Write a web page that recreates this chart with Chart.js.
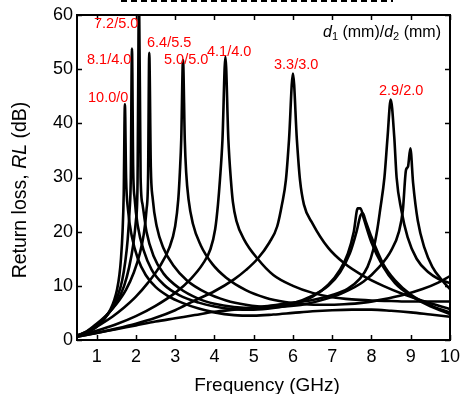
<!DOCTYPE html>
<html><head><meta charset="utf-8">
<script src="https://cdn.jsdelivr.net/npm/chart.js@4"></script>
<style>html,body{margin:0;padding:0;background:#fff;}</style>
</head><body>
<canvas id="c" width="473" height="394"></canvas>
<script>
// ---- data ----
const xTickValues = [1,2,3,4,5,6,7,8,9,10];
const yTickValues = [0,10,20,30,40,50,60];
const seriesLabels = ["10.0/0","8.1/4.0","7.2/5.0","6.4/5.5","5.0/5.0","4.1/4.0","3.3/3.0","2.9/2.0"];

const freqA = [0.5,0.75,1.0,1.2,1.35,1.45,1.52,1.58,1.62,1.66,1.69,1.72,1.75,1.80,1.9,2.05,2.25,2.5,2.8,3.2,3.6,4.0,4.5,5.0,5.5,6.0,6.5,7.0,7.5,8.0,8.5,9.0,9.5,10];
const rlA   = [0.6,1.3,2.4,3.9,5.6,7.4,9.3,12,15,20,27,43.5,30,24,19,15,12,9.8,8.2,6.8,5.8,5.1,4.6,4.5,4.7,5.0,5.3,5.5,5.6,5.6,5.4,5.1,4.7,4.3];

const freqB = [0.5,0.75,1.0,1.2,1.4,1.55,1.65,1.73,1.79,1.84,1.87,1.90,1.93,1.97,2.05,2.2,2.4,2.7,3.1,3.6,4.0,4.5,5.0,5.5,6.0,6.5,6.9,7.2,7.4,7.55,7.65,7.72,7.8,8.0,8.3,8.6,9.0,9.5,10];
const rlB   = [0.7,1.4,2.6,4.0,6.0,8.4,11,14.5,18.5,24,30,53.8,32,26,21,16.5,13,10.3,8.3,6.9,6.2,5.7,5.6,5.9,6.6,8.0,10.2,13,16,20,24.3,24.3,22.5,18,13.5,10.5,8.2,6.2,4.8];

const freqC = [0.5,0.75,1.0,1.25,1.5,1.7,1.83,1.93,2.0,2.04,2.08,2.12,2.17,2.27,2.45,2.7,3.1,3.6,4.0,4.5,5.0,5.5,6.0,6.5,6.9,7.2,7.45,7.62,7.72,7.78,7.85,8.0,8.3,8.6,9.0,9.5,10];
const rlC   = [0.8,1.5,2.8,4.5,6.8,10,13.5,17.5,22,28,64,30,25,20,15.5,12.3,9.6,7.6,6.7,6.1,5.9,6.1,6.8,8.2,10,12.5,16,20,23.0,23.4,22,19,14,11,8.4,6.4,5.1];

const freqD = [0.5,0.75,1.0,1.25,1.5,1.75,1.95,2.1,2.2,2.27,2.31,2.34,2.38,2.43,2.53,2.7,2.95,3.3,3.8,4.3,4.8,5.3,5.8,6.3,6.8,7.3,7.8,8.2,8.5,8.7,8.8,8.88,8.93,8.99,9.06,9.18,9.35,9.55,9.8,10];
const rlD   = [0.8,1.6,3.0,4.6,6.6,9.3,12.5,16,19.5,24,30,53,32,26,21,17,13.8,11,8.7,7.3,6.5,6.1,6.2,6.6,7.5,8.8,10.8,13.5,16.5,20,24,31.4,32,35.4,29,22,17,13.5,11,9.4];

const freqE = [0.5,0.8,1.1,1.4,1.7,2.0,2.3,2.6,2.85,3.0,3.08,3.12,3.155,3.2,3.245,3.28,3.34,3.45,3.65,3.95,4.3,4.8,5.3,5.8,6.3,6.8,7.3,7.8,8.3,8.8,9.3,9.7,10];
const rlE   = [0.8,1.7,2.9,4.3,6.0,8.0,10.5,13.5,17,21,26,31,37,51.7,37,31,26,21.5,17.5,14,11.5,9.2,7.8,7.0,6.6,6.5,6.6,6.9,7.5,8.3,9.4,10.6,11.8];

const freqF = [0.5,1.0,1.5,2.0,2.5,3.0,3.4,3.7,3.9,4.02,4.09,4.14,4.205,4.28,4.355,4.42,4.47,4.56,4.76,5.1,5.5,6.0,6.5,7.0,7.5,8.0,8.5,9.0,9.5,10];
const rlF   = [0.7,1.7,2.9,4.4,6.3,8.7,11.3,14,16.8,20.5,25,29.5,37,52.3,37,29.5,25.5,22,18.5,15,12,10,8.7,7.9,7.5,7.3,7.2,7.1,7.1,7.1];

const freqG = [0.5,1.0,1.5,2.0,2.5,3.0,3.5,4.0,4.5,4.8,5.1,5.4,5.6,5.72,5.82,5.9,6.0,6.1,6.18,6.28,6.5,6.9,7.3,7.8,8.3,8.8,9.4,10];
const rlG   = [0.6,1.3,2.1,3.0,4.1,5.5,7.3,9.0,11.2,12.9,15,18,21,25,29.5,37,49.2,37,29.5,25,21.5,17,14.2,11.8,10,8.5,7,5.7];

const freqH = [0.5,1.0,1.5,2.0,2.5,3.0,3.5,4.0,4.5,5.0,5.5,6.0,6.5,7.0,7.4,7.7,7.9,8.05,8.15,8.22,8.33,8.41,8.49,8.58,8.64,8.76,8.92,9.15,9.45,9.7,10];
const rlH   = [0.6,1.3,2.0,2.7,3.4,4.0,4.6,5.2,5.6,6.0,6.4,6.9,7.4,8.3,9.5,11.3,13.5,16.8,20.5,24,30,37.5,44.4,37.5,30,24,19,15,12.5,11.3,10.5];

const seriesFreq = [freqA,freqB,freqC,freqD,freqE,freqF,freqG,freqH];
const seriesRL   = [rlA,rlB,rlC,rlD,rlE,rlF,rlG,rlH];

// ---- label placement (style, not data) ----
const labelPos = [[88,98],[87,60],[94,24],[147,43],[164,60],[207,52],[274,65],[379,91]];

const FONT = '"Liberation Sans", Arial, sans-serif';

const datasets = seriesFreq.map((fs,i)=>({
  label: seriesLabels[i],
  data: fs.map((f,j)=>({x:f,y:seriesRL[i][j]})),
  borderColor:'#000', backgroundColor:'#000', borderWidth:2.6,
  pointRadius:0, fill:false, cubicInterpolationMode:'monotone', showLine:true
}));

const decor = {
  id:'decor',
  afterDraw(chart){
    const ctx = chart.ctx, a = chart.chartArea;
    const xs = chart.scales.x, ys = chart.scales.y;
    ctx.save();
    ctx.strokeStyle='#000'; ctx.lineWidth=2;
    ctx.strokeRect(a.left, a.top, a.right-a.left, a.bottom-a.top);
    ctx.lineWidth=1.5;
    ctx.beginPath();
    xTickValues.forEach(v=>{
      const px = Math.round(xs.getPixelForValue(v))+0.5;
      ctx.moveTo(px,a.bottom); ctx.lineTo(px,a.bottom-5);
      ctx.moveTo(px,a.top); ctx.lineTo(px,a.top+5);
    });
    yTickValues.forEach(v=>{
      const py = Math.round(ys.getPixelForValue(v))+0.5;
      ctx.moveTo(a.left,py); ctx.lineTo(a.left+5,py);
      ctx.moveTo(a.right,py); ctx.lineTo(a.right-5,py);
    });
    ctx.stroke();
    ctx.setLineDash([6,4]); ctx.lineWidth=2;
    ctx.beginPath(); ctx.moveTo(121,1); ctx.lineTo(393,1); ctx.stroke();
    ctx.setLineDash([]);
    ctx.fillStyle='#ff0000'; ctx.font='14.5px '+FONT; ctx.textBaseline='middle'; ctx.textAlign='left';
    seriesLabels.forEach((t,i)=>ctx.fillText(t,labelPos[i][0],labelPos[i][1]));
    ctx.fillStyle='#000';
    let x=323, y=33;
    const seg=(txt,font,dy)=>{ctx.font=font; ctx.fillText(txt,x,y+(dy||0)); x+=ctx.measureText(txt).width;};
    seg('d','italic 16px '+FONT); seg('1','11px '+FONT,4); seg(' (mm)/','16px '+FONT);
    seg('d','italic 16px '+FONT); seg('2','11px '+FONT,4); seg(' (mm)','16px '+FONT);
    ctx.font='19px '+FONT; ctx.textAlign='center';
    ctx.fillText('Frequency (GHz)', 267, 386);
    ctx.translate(21,190); ctx.rotate(-Math.PI/2);
    const parts=[['Return loss, ','19.5px '+FONT],['RL','italic 19.5px '+FONT],[' (dB)','19.5px '+FONT]];
    let tw=0; parts.forEach(p=>{ctx.font=p[1]; tw+=ctx.measureText(p[0]).width;});
    let cx=-tw/2; ctx.textAlign='left';
    parts.forEach(p=>{ctx.font=p[1]; ctx.fillText(p[0],cx,0); cx+=ctx.measureText(p[0]).width;});
    ctx.restore();
  }
};

new Chart(document.getElementById('c'),{
  type:'scatter',
  data:{datasets},
  options:{
    responsive:false, animation:false,
    layout:{padding:{top:15,right:23,left:0,bottom:0}},
    plugins:{legend:{display:false},tooltip:{enabled:false}},
    scales:{
      x:{type:'linear',min:0.5,max:10,
         afterBuildTicks(s){s.ticks=xTickValues.map(v=>({value:v}));},
         afterFit(s){s.height=54;},
         grid:{display:false,drawTicks:false},border:{display:false},
         ticks:{color:'#000',padding:6,font:{family:FONT,size:18},maxRotation:0,autoSkip:false}},
      y:{type:'linear',min:0,max:60,
         afterBuildTicks(s){s.ticks=yTickValues.map(v=>({value:v}));},
         afterFit(s){s.width=77;},
         grid:{display:false,drawTicks:false},border:{display:false},
         ticks:{color:'#000',padding:4,font:{family:FONT,size:18}}}
    }
  },
  plugins:[decor]
});
</script>
</body></html>
